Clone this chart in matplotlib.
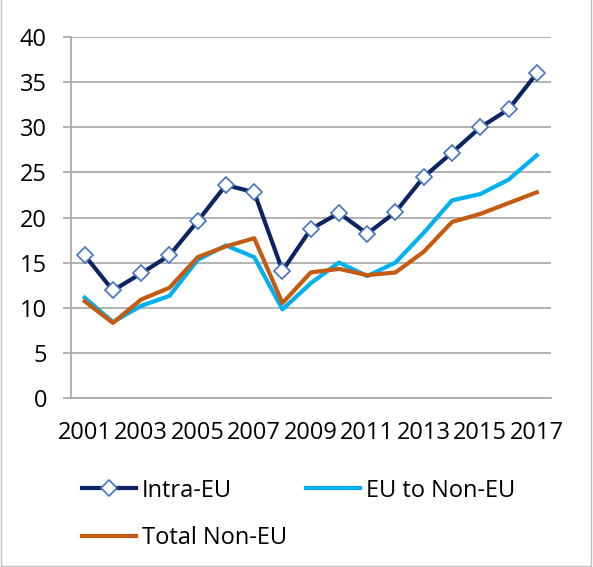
import matplotlib
matplotlib.use("Agg")
import matplotlib.pyplot as plt
from matplotlib.patches import Rectangle

years = list(range(2001, 2018))
intra_eu = [15.8, 11.9, 13.8, 15.8, 19.6, 23.6, 22.8, 14.1, 18.7, 20.5, 18.2, 20.6, 24.5, 27.2, 30.0, 32.0, 36.0]
eu_to_non_eu = [11.1, 8.4, 10.2, 11.3, 15.3, 16.9, 15.6, 9.8, 12.7, 15.0, 13.5, 15.0, 18.3, 21.9, 22.6, 24.2, 26.9]
total_non_eu = [10.7, 8.3, 10.9, 12.2, 15.6, 16.8, 17.7, 10.5, 13.9, 14.3, 13.6, 13.9, 16.2, 19.5, 20.4, 21.6, 22.8]
yticks = [0, 5, 10, 15, 20, 25, 30, 35, 40]
xtick_labels = [str(y) for y in years[::2]]

plt.rcParams['font.family'] = ['Open Sans', 'DejaVu Sans']

fig = plt.figure(figsize=(5.93, 5.67), dpi=100)
ax = fig.add_axes([0.119, 0.2986, 0.81, 0.6356])

grid_c = '#A6A6A6'
x = list(range(len(years)))
l1, = ax.plot(x, intra_eu, color='#0C2461', lw=3.0, marker='D', ms=8.5,
              mfc='white', mec='#4472C4', mew=1.2, label='Intra-EU', zorder=5)
l2, = ax.plot(x, eu_to_non_eu, color='#00B0F0', lw=3.0, label='EU to Non-EU', zorder=3)
l3, = ax.plot(x, total_non_eu, color='#C55A11', lw=3.0, label='Total Non-EU', zorder=4)

ax.set_xlim(-0.5, len(years) - 0.5)
ax.set_ylim(0, 40)
ax.set_yticks(yticks)
ax.set_xticks(x[::2])
ax.set_xticklabels(xtick_labels)
ax.yaxis.grid(True, color=grid_c, lw=1.2)
ax.set_axisbelow(True)
for s in ['top', 'right']:
    ax.spines[s].set_visible(False)
for s in ['left', 'bottom']:
    ax.spines[s].set_color(grid_c)
    ax.spines[s].set_linewidth(1.2)
ax.tick_params(axis='y', length=6, width=1.2, color=grid_c, labelsize=17, pad=11)
ax.tick_params(axis='x', length=0, labelsize=17, pad=17)

fig.legend([l1, l3, l2], ['Intra-EU', 'Total Non-EU', 'EU to Non-EU'],
           ncol=2, loc='upper left', bbox_to_anchor=(0.138, 0.156),
           frameon=False, fontsize=17, handlelength=2.3, handletextpad=0.25,
           columnspacing=0.8, labelspacing=1.0, borderaxespad=0, borderpad=0)

fig.patches.append(Rectangle((0.002, 0.002), 0.994, 1.2, transform=fig.transFigure,
                             fill=False, edgecolor='#BFBFBF', lw=1.0))

fig.savefig('out.png', dpi=100, facecolor='white')
